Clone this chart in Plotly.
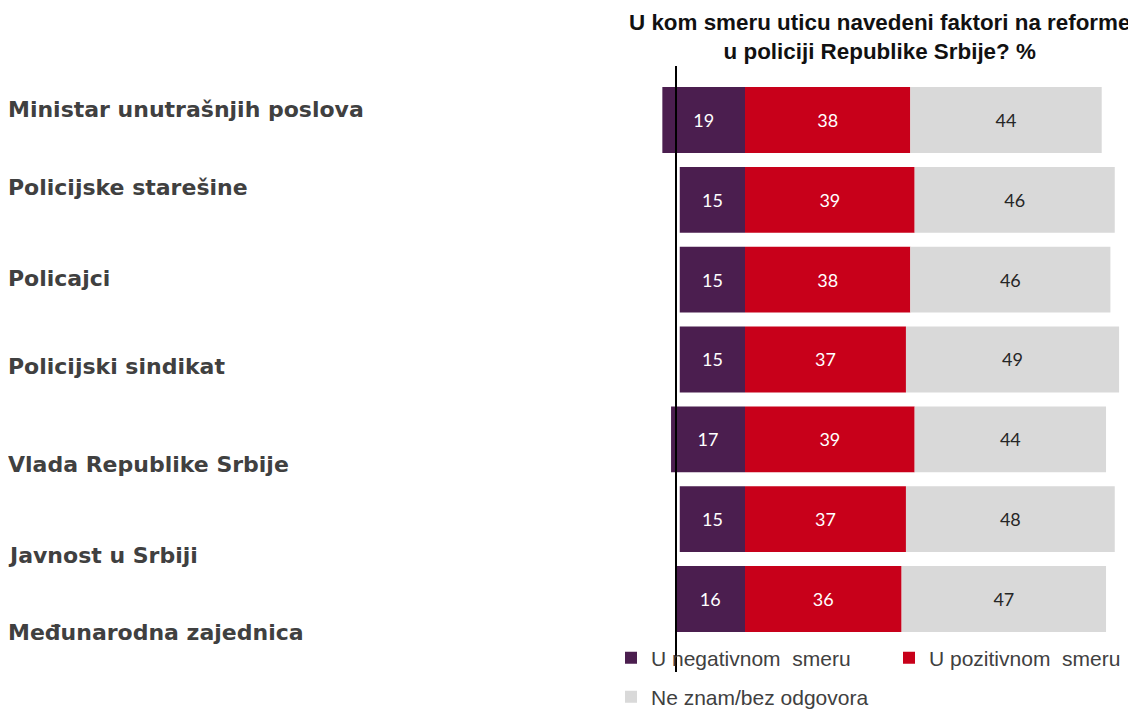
import plotly.graph_objects as go

categories = [
    "Ministar unutrašnjih poslova",
    "Policijske starešine",
    "Policajci",
    "Policijski sindikat",
    "Vlada Republike Srbije",
    "Javnost u Srbiji",
    "Međunarodna zajednica",
]
negative = [19, 15, 15, 15, 17, 15, 16]
positive = [38, 39, 38, 37, 39, 37, 36]
dont_know = [44, 46, 46, 49, 44, 48, 47]
series_names = ["U negativnom  smeru", "U pozitivnom  smeru", "Ne znam/bez odgovora"]
title_lines = ["U kom smeru uticu navedeni faktori na reforme", "u policiji Republike Srbije? %"]

# page is 1136x710; the html body has an 8px margin
OFF = 8
PW, PH = 1136, 710
FW, FH = PW - OFF, PH - OFF


def px(p):
    return (p - OFF) / FW


def py(p):
    return 1 - (p - OFF) / FH


C_NEG, C_POS, C_DK = "#4B1E4F", "#C8001A", "#D9D9D9"
ypos = list(range(len(categories)))

# page pixel mapping: zero at x=745, 4.35 px per unit; bar centres at 120 + 79.83*i
px_unit = 4.35
x0_px = 745
xr = [(OFF - x0_px) / px_unit, (PW - x0_px) / px_unit]
pitch = 79.83
yr = [(PH - 120) / pitch, (OFF - 120) / pitch]

bar_font = dict(family="Lato, Liberation Sans, sans-serif", size=18)

fig = go.Figure()
fig.add_trace(go.Bar(
    y=ypos, x=negative, base=[-v for v in negative], orientation="h",
    name=series_names[0], marker=dict(color=C_NEG, line=dict(width=0)),
    text=[str(v) for v in negative], textposition="inside", insidetextanchor="middle",
    textfont=dict(color="white", **bar_font), width=0.825,
    legend="legend",
))
fig.add_trace(go.Bar(
    y=ypos, x=positive, base=[0] * len(positive), orientation="h",
    name=series_names[1], marker=dict(color=C_POS, line=dict(width=0)),
    text=[str(v) for v in positive], textposition="inside", insidetextanchor="middle",
    textfont=dict(color="white", **bar_font), width=0.825,
    legend="legend2",
))
fig.add_trace(go.Bar(
    y=ypos, x=dont_know, base=positive, orientation="h",
    name=series_names[2], marker=dict(color=C_DK, line=dict(width=0)),
    text=[str(v) for v in dont_know], textposition="inside", insidetextanchor="middle",
    textfont=dict(color="#262626", **bar_font), width=0.825,
    legend="legend3",
))

label_y_px = [109, 188, 278, 366, 465, 555, 632]
annotations = []
for lab, ypx in zip(categories, label_y_px):
    annotations.append(dict(
        text=lab, xref="paper", yref="paper", x=px(6), y=py(ypx),
        xanchor="left", yanchor="middle", showarrow=False,
        font=dict(family="DejaVu Sans", size=22, color="#404040", weight="bold"),
    ))
annotations.append(dict(
    text="<b>" + title_lines[0] + "</b><br><b>" + title_lines[1] + "</b>",
    xref="paper", yref="paper", x=px(879), y=py(37),
    xanchor="center", yanchor="middle", showarrow=False,
    font=dict(family="Liberation Sans, sans-serif", size=22.4, color="#111111"),
))

legend_font = dict(family="Liberation Sans, sans-serif", size=21, color="#404040")
leg_common = dict(orientation="v", xanchor="left", yanchor="middle",
                  font=legend_font, bgcolor="rgba(0,0,0,0)")
fig.update_layout(
    width=FW, height=FH,
    margin=dict(l=0, r=0, t=0, b=0, autoexpand=False),
    paper_bgcolor="white", plot_bgcolor="white",
    barmode="overlay",
    showlegend=True,
    xaxis=dict(range=xr, visible=False, fixedrange=True),
    yaxis=dict(range=yr, visible=False, fixedrange=True),
    legend=dict(x=px(611), y=py(658), **leg_common),
    legend2=dict(x=px(889), y=py(658), **leg_common),
    legend3=dict(x=px(611), y=py(697), **leg_common),
    annotations=annotations,
    shapes=[dict(
        type="line", xref="x", yref="paper",
        x0=(676 - x0_px) / px_unit, x1=(676 - x0_px) / px_unit,
        y0=py(672), y1=py(66),
        line=dict(color="black", width=2), layer="above",
    )],
)

fig.write_html("out.html")
